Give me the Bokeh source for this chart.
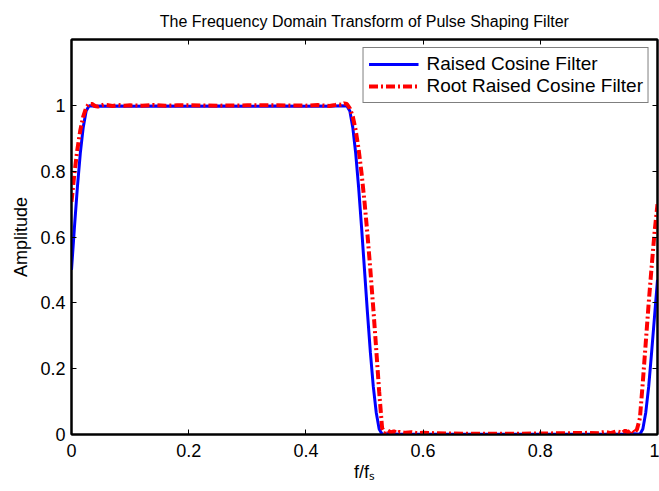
from bokeh.plotting import figure
from bokeh.models import Range1d, FixedTicker, LinearAxis, Legend, LegendItem
from bokeh.embed import file_html
from bokeh.resources import INLINE

title_text = "The Frequency Domain Transform of Pulse Shaping Filter"
x_label = "f/fₛ"
y_label = "Amplitude"
series_names = ["Raised Cosine Filter", "Root Raised Cosine Filter"]

x_ticks = [0, 0.2, 0.4, 0.6, 0.8, 1]
x_tick_labels = ["0", "0.2", "0.4", "0.6", "0.8", "1"]
y_ticks = [0, 0.2, 0.4, 0.6, 0.8, 1]
y_tick_labels = ["0", "0.2", "0.4", "0.6", "0.8", "1"]

# Raised cosine filter
rc_f = [0, 0.005, 0.01, 0.015, 0.02, 0.025, 0.03, 0.04, 0.05, 0.06, 0.08, 0.1,
        0.15, 0.2, 0.25, 0.3, 0.35, 0.4, 0.42, 0.44, 0.45, 0.46, 0.47, 0.475,
        0.48, 0.485, 0.49, 0.495, 0.5, 0.505, 0.51, 0.515, 0.52, 0.525, 0.53,
        0.54, 0.56, 0.6, 0.7, 0.8, 0.9, 0.94, 0.96, 0.97, 0.975, 0.98, 0.985,
        0.99, 0.995, 1.0]
rc_amp = [0.5, 0.629, 0.75, 0.854, 0.933, 0.983, 0.999, 0.997, 0.998, 0.997,
          0.998, 0.997, 0.998, 0.997, 0.998, 0.997, 0.998, 0.997, 0.998, 0.997,
          0.998, 0.999, 0.998, 0.983, 0.933, 0.854, 0.75, 0.629, 0.5, 0.371,
          0.25, 0.146, 0.067, 0.017, 0.001, 0.002, 0.001, 0.001, 0.001, 0.001,
          0.001, 0.001, 0.002, 0.001, 0.017, 0.067, 0.146, 0.25, 0.36, 0.47]

# Root raised cosine filter
rrc_f = [0, 0.005, 0.01, 0.015, 0.02, 0.025, 0.03, 0.035, 0.04, 0.045, 0.05,
         0.055, 0.06, 0.07, 0.08, 0.09, 0.1, 0.12, 0.14, 0.16, 0.18, 0.2, 0.25,
         0.3, 0.35, 0.4, 0.42, 0.44, 0.45, 0.455, 0.46, 0.465, 0.47, 0.475,
         0.48, 0.485, 0.49, 0.495, 0.5, 0.505, 0.51, 0.515, 0.52, 0.525, 0.53,
         0.535, 0.54, 0.545, 0.55, 0.555, 0.56, 0.57, 0.58, 0.59, 0.6, 0.62,
         0.65, 0.7, 0.75, 0.8, 0.85, 0.88, 0.9, 0.91, 0.92, 0.93, 0.94, 0.945,
         0.95, 0.955, 0.96, 0.965, 0.97, 0.975, 0.98, 0.985, 0.99, 0.995, 1.0]
rrc_amp = [0.707, 0.793, 0.866, 0.924, 0.966, 0.993, 1.005, 1.004, 0.998, 0.996,
           0.999, 1.002, 1.001, 0.998, 1.001, 0.999, 1.0, 0.999, 1.001, 0.999,
           1.0, 1.0, 0.999, 1.0, 1.0, 0.999, 1.001, 0.998, 1.001, 1.003, 1.002,
           1.006, 1.004, 0.991, 0.966, 0.924, 0.866, 0.793, 0.707, 0.609, 0.5,
           0.383, 0.259, 0.131, 0.02, 0.004, 0.012, 0.006, 0.010, 0.004, 0.008,
           0.005, 0.007, 0.004, 0.005, 0.004, 0.003, 0.002, 0.002, 0.003, 0.004,
           0.005, 0.004, 0.008, 0.004, 0.010, 0.005, 0.012, 0.006, 0.014, 0.004,
           0.016, 0.05, 0.16, 0.28, 0.40, 0.51, 0.615, 0.70]

FONT = "Liberation Sans"

p = figure(width=659, height=491, output_backend="svg", toolbar_location=None,
           x_range=Range1d(0, 1), y_range=Range1d(0, 1.2),
           min_border_left=71, min_border_right=2, min_border_top=39,
           min_border_bottom=57)
p.background_fill_color = "white"
p.border_fill_color = "white"
p.outline_line_color = "black"
p.outline_line_width = 2
p.xgrid.visible = False
p.ygrid.visible = False

p.title.text = title_text
p.title.align = "center"
p.title.text_font = FONT
p.title.text_font_size = "16px"
p.title.text_font_style = "normal"
p.title.text_color = "black"
p.title.standoff = 20


def style_axis(ax, ticks, labels, show_labels):
    ax.ticker = FixedTicker(ticks=ticks)
    ax.major_tick_in = 5
    ax.major_tick_out = 0
    ax.major_tick_line_width = 1
    ax.major_tick_line_color = "black"
    ax.minor_tick_line_color = None
    ax.axis_line_color = "black"
    ax.axis_line_width = 2
    ax.major_label_text_font = FONT
    if show_labels:
        ax.major_label_overrides = {t: l for t, l in zip(ticks, labels)}
        ax.major_label_text_font_size = "18px"
        ax.major_label_text_color = "black"
    else:
        ax.major_label_text_font_size = "1px"
        ax.major_label_text_color = None
        ax.major_label_standoff = 0


style_axis(p.xaxis[0], x_ticks, x_tick_labels, True)
style_axis(p.yaxis[0], y_ticks, y_tick_labels, True)
p.xaxis[0].major_label_standoff = 9
p.yaxis[0].major_label_standoff = 6
p.xaxis[0].axis_label = x_label
p.yaxis[0].axis_label = y_label
for ax in (p.xaxis[0], p.yaxis[0]):
    ax.axis_label_text_font = FONT
    ax.axis_label_text_font_size = "18px"
    ax.axis_label_text_font_style = "normal"
    ax.axis_label_text_color = "black"
p.xaxis[0].axis_label_standoff = 2
p.yaxis[0].axis_label_standoff = 6

top_ax = LinearAxis()
style_axis(top_ax, x_ticks, x_tick_labels, False)
p.add_layout(top_ax, "above")
right_ax = LinearAxis()
style_axis(right_ax, y_ticks, y_tick_labels, False)
p.add_layout(right_ax, "right")

r_rc = p.line(rc_f, rc_amp, line_color="#0000ff", line_width=3)
r_rrc = p.line(rrc_f, rrc_amp, line_color="#ff0000", line_width=4,
               line_dash="9 3 2 3")

legend = Legend(items=[LegendItem(label=series_names[0], renderers=[r_rc]),
                       LegendItem(label=series_names[1], renderers=[r_rrc])],
                location="top_right")
legend.margin = 8
legend.padding = 5
legend.spacing = 0
legend.glyph_width = 50
legend.glyph_height = 20
legend.label_height = 20
legend.label_standoff = 8
legend.label_text_font = FONT
legend.label_text_font_size = "19px"
legend.label_text_color = "black"
legend.border_line_color = "black"
legend.border_line_width = 1
legend.background_fill_color = "white"
legend.background_fill_alpha = 1
p.add_layout(legend, "center")

open("out.html", "w").write(file_html(p, INLINE))
